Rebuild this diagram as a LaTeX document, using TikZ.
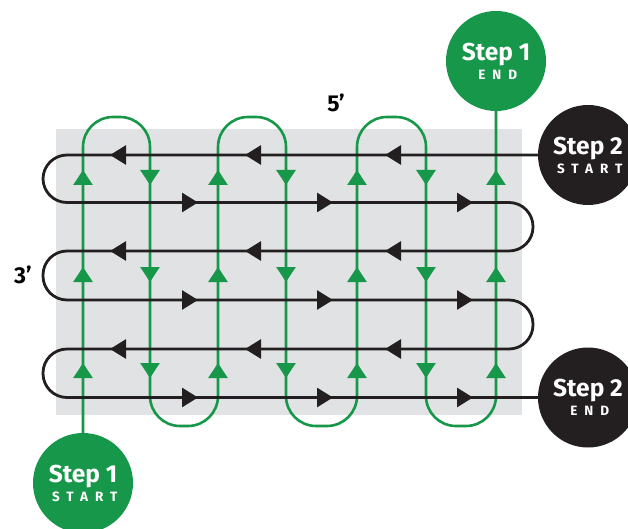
\documentclass[tikz,border=0pt]{standalone}
\usepackage{fontspec}
\setmainfont{Fira Sans}
\newfontfamily\spacedcaps[LetterSpace=52]{Fira Sans}
\usetikzlibrary{arrows.meta}

\definecolor{stepgreen}{HTML}{17974A}
\definecolor{stepblack}{HTML}{231F20}
\definecolor{boardgray}{HTML}{E1E2E4}

\newcommand{\steptext}[2]{Step #1\\{\fontsize{13.5}{19}\spacedcaps\bfseries #2\kern-3.5pt}}

\begin{document}
\begin{tikzpicture}[
    x=1pt, y=-1pt,
    stepcircle/.style = { circle,minimum size=+100pt,inner sep=0pt,text=white,align=center,
                          font=\bfseries\fontsize{24.5}{19}\selectfont },
    greenpath/.style  = { draw=stepgreen,line width=2.6pt,rounded corners=30pt },
    blackpath/.style  = { draw=stepblack,line width=2.8pt,rounded corners=24pt },
    garrow/.style     = { stepgreen,line width=2.6pt,-{Triangle[length=15pt,width=19pt]} },
    barrow/.style     = { stepblack,line width=2.8pt,-{Triangle[length=16pt,width=19pt]} },
    dimlabel/.style   = { font=\bfseries\fontsize{23}{23}\selectfont,text=black }
    ]
    \useasboundingbox (0,0) rectangle (628,529);
    \clip (0,0) rectangle (628,529);
    % Definitions
    \coordinate (oneS) at ( 83,483);
    \coordinate (oneE) at (496, 61);
    \coordinate (twoS) at (588,155);
    \coordinate (twoE) at (588,397.5);
    % Board
    \fill[boardgray] (56,129) rectangle (522,415);
    % Nodes
    \node(s1start) at (oneS) [stepcircle,fill=stepgreen] {\steptext{1}{START}};
    \node(s1end)   at (oneE) [stepcircle,fill=stepgreen] {\steptext{1}{END}};
    \node(s2start) at (twoS) [stepcircle,fill=stepblack] {\steptext{2}{START}};
    \node(s2end)   at (twoE) [stepcircle,fill=stepblack] {\steptext{2}{END}};
    \node(lblw)    at (336,103) [dimlabel] {5’};
    \node(lblh)    at ( 23,275) [dimlabel] {3’};
    % Step 1 path
    \draw[greenpath] (s1start) -- (83,117) -- (150,117) -- (150,426) -- (218,426)
        -- (218,117) -- (286,117) -- (286,426) -- (357,426) -- (357,117)
        -- (426,117) -- (426,426) -- (496,426) -- (s1end);
    \foreach \x in {83,218,357,496}
        \foreach \t in {170,267,363}
            \draw[garrow] (\x,{\t+25}) -- (\x,\t);
    \foreach \x in {150,286,426}
        \foreach \t in {185,282,378}
            \draw[garrow] (\x,{\t-25}) -- (\x,\t);
    % Step 2 path
    \draw[blackpath] (s2start) -- (43,155) -- (43,202.5) -- (533,202.5) -- (533,251)
        -- (43,251) -- (43,300) -- (533,300) -- (533,349) -- (43,349)
        -- (43,397.5) -- (s2end);
    \foreach \r in {155,251,349}
        \foreach \t in {110,245,385}
            \draw[barrow] ({\t+25},\r) -- (\t,\r);
    \foreach \r in {202.5,300,397.5}
        \foreach \t in {198,333,473}
            \draw[barrow] ({\t-25},\r) -- (\t,\r);
\end{tikzpicture}
\end{document}
